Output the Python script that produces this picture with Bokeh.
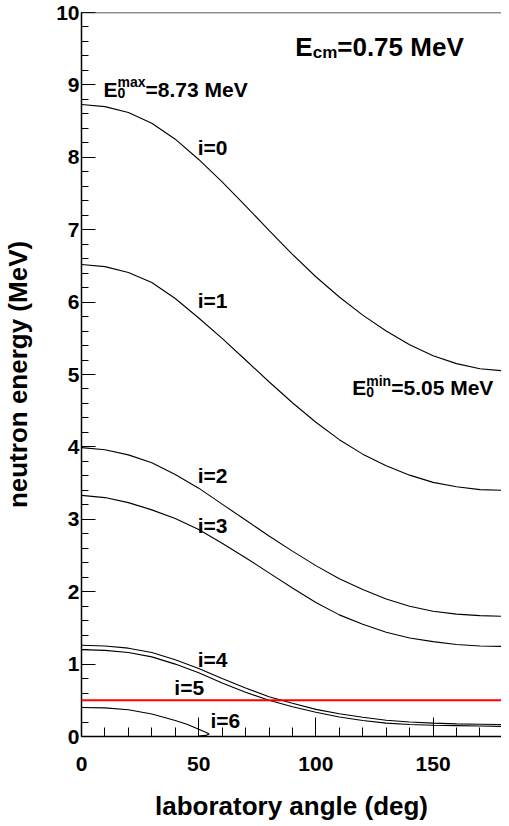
from bokeh.plotting import figure
from bokeh.models import Range1d, SingleIntervalTicker, Span
from bokeh.core.properties import value
from bokeh.embed import file_html
from bokeh.resources import INLINE

# ---- data ----
angles = [0, 10, 20, 30, 40, 50, 60, 70, 80, 90, 100, 110, 120, 130, 140, 150, 160, 170, 180]
e_i0 = [8.73, 8.70, 8.62, 8.47, 8.25, 7.97, 7.66, 7.33, 6.99, 6.66, 6.35, 6.07, 5.82, 5.60, 5.41, 5.26, 5.15, 5.08, 5.05]
e_i1 = [6.52, 6.49, 6.41, 6.27, 6.05, 5.78, 5.50, 5.20, 4.90, 4.61, 4.34, 4.10, 3.90, 3.74, 3.61, 3.51, 3.45, 3.41, 3.40]
e_i2 = [3.99, 3.96, 3.89, 3.78, 3.62, 3.43, 3.21, 2.99, 2.77, 2.56, 2.36, 2.18, 2.03, 1.90, 1.80, 1.73, 1.69, 1.67, 1.66]
e_i3 = [3.33, 3.30, 3.23, 3.13, 3.01, 2.86, 2.67, 2.47, 2.26, 2.05, 1.85, 1.68, 1.55, 1.44, 1.36, 1.31, 1.27, 1.25, 1.245]
e_i4 = [1.26, 1.25, 1.22, 1.16, 1.06, 0.94, 0.80, 0.67, 0.55, 0.46, 0.375, 0.315, 0.265, 0.225, 0.20, 0.185, 0.175, 0.17, 0.165]
e_i5 = [1.20, 1.19, 1.16, 1.10, 1.00, 0.88, 0.74, 0.61, 0.50, 0.41, 0.335, 0.27, 0.22, 0.185, 0.165, 0.155, 0.15, 0.145, 0.14]
angles_i6 = [0, 10, 20, 30, 40, 45, 50, 53, 54.5, 53, 50]
e_i6 = [0.40, 0.395, 0.37, 0.31, 0.22, 0.17, 0.10, 0.06, 0.035, 0.015, 0.005]
threshold = 0.5

level_names = ["i=0", "i=1", "i=2", "i=3", "i=4", "i=5", "i=6"]
x_ticks_interval = 50
y_ticks_interval = 1

FONT = "Liberation Sans"

p = figure(width=501, height=826, output_backend="svg", toolbar_location=None,
           x_range=Range1d(0, 179.2), y_range=Range1d(0, 10),
           min_border_left=71, min_border_right=0, min_border_top=12, min_border_bottom=90)
p.xgrid.visible = False
p.ygrid.visible = False
p.outline_line_color = None
p.background_fill_color = "white"
p.border_fill_color = "white"

p.xaxis.ticker = SingleIntervalTicker(interval=x_ticks_interval, num_minor_ticks=5)
p.yaxis.ticker = SingleIntervalTicker(interval=y_ticks_interval, num_minor_ticks=5)

for ax in (p.xaxis[0], p.yaxis[0]):
    ax.axis_line_color = "black"
    ax.axis_line_width = 1.5
    ax.major_tick_line_color = "black"
    ax.minor_tick_line_color = "black"
    ax.major_tick_out = 0
    ax.minor_tick_out = 0
    ax.major_label_text_font = FONT
    ax.major_label_text_font_style = "bold"
    ax.major_label_text_font_size = "21px"
    ax.major_label_text_color = "black"
    ax.axis_label_text_font = FONT
    ax.axis_label_text_font_style = "bold"
    ax.axis_label_text_font_size = "26px"
    ax.axis_label_text_color = "black"

p.xaxis.major_tick_in = 19
p.xaxis.minor_tick_in = 9
p.yaxis.major_tick_in = 14
p.yaxis.minor_tick_in = 7
p.xaxis.major_label_standoff = 20
p.yaxis.major_label_standoff = 2
p.xaxis.axis_label = "laboratory angle (deg)"
p.yaxis.axis_label = "neutron energy (MeV)"
p.xaxis.axis_label_standoff = 17
p.yaxis.axis_label_standoff = 20

# top frame line
p.add_layout(Span(location=10, dimension="width", line_color="#222222", line_width=1.5))

for ys in (e_i0, e_i1, e_i2, e_i3, e_i4, e_i5):
    p.line(angles, ys, line_color="black", line_width=1.1)
p.line(angles_i6, e_i6, line_color="black", line_width=1.1)

p.add_layout(Span(location=threshold, dimension="width", line_color="#ff0000", line_width=2))

def txt(x, y, s, size, dx=0, dy=0):
    p.text(x=[x], y=[y], text=[s], x_offset=dx, y_offset=dy,
           text_font=value(FONT), text_font_style="bold", text_font_size=size,
           text_color="black", text_align="left", text_baseline="alphabetic")

label_pos = [(49.6, 8.13), (49.6, 6.02), (49.6, 3.60), (49.6, 2.91), (49.6, 1.06), (39.6, 0.68), (55.0, 0.22)]
for name, (lx, ly) in zip(level_names, label_pos):
    txt(lx, ly, name, "21px")

# E_cm label
txt(91.2, 9.52, "E", "26px")
txt(91.2, 9.52, "cm", "17px", dx=17.5, dy=5)
txt(91.2, 9.52, "=0.75 MeV", "26px", dx=42)

# E0 max label
txt(9.4, 8.94, "E", "21px")
txt(9.4, 8.94, "0", "14px", dx=14, dy=4)
txt(9.4, 8.94, "max", "14px", dx=14, dy=-7)
txt(9.4, 8.94, "=8.73 MeV", "21px", dx=42)

# E0 min label
txt(115.5, 4.82, "E", "21px")
txt(115.5, 4.82, "0", "14px", dx=14, dy=4)
txt(115.5, 4.82, "min", "14px", dx=14, dy=-7)
txt(115.5, 4.82, "=5.05 MeV", "21px", dx=39)

open("out.html", "w").write(file_html(p, INLINE))
